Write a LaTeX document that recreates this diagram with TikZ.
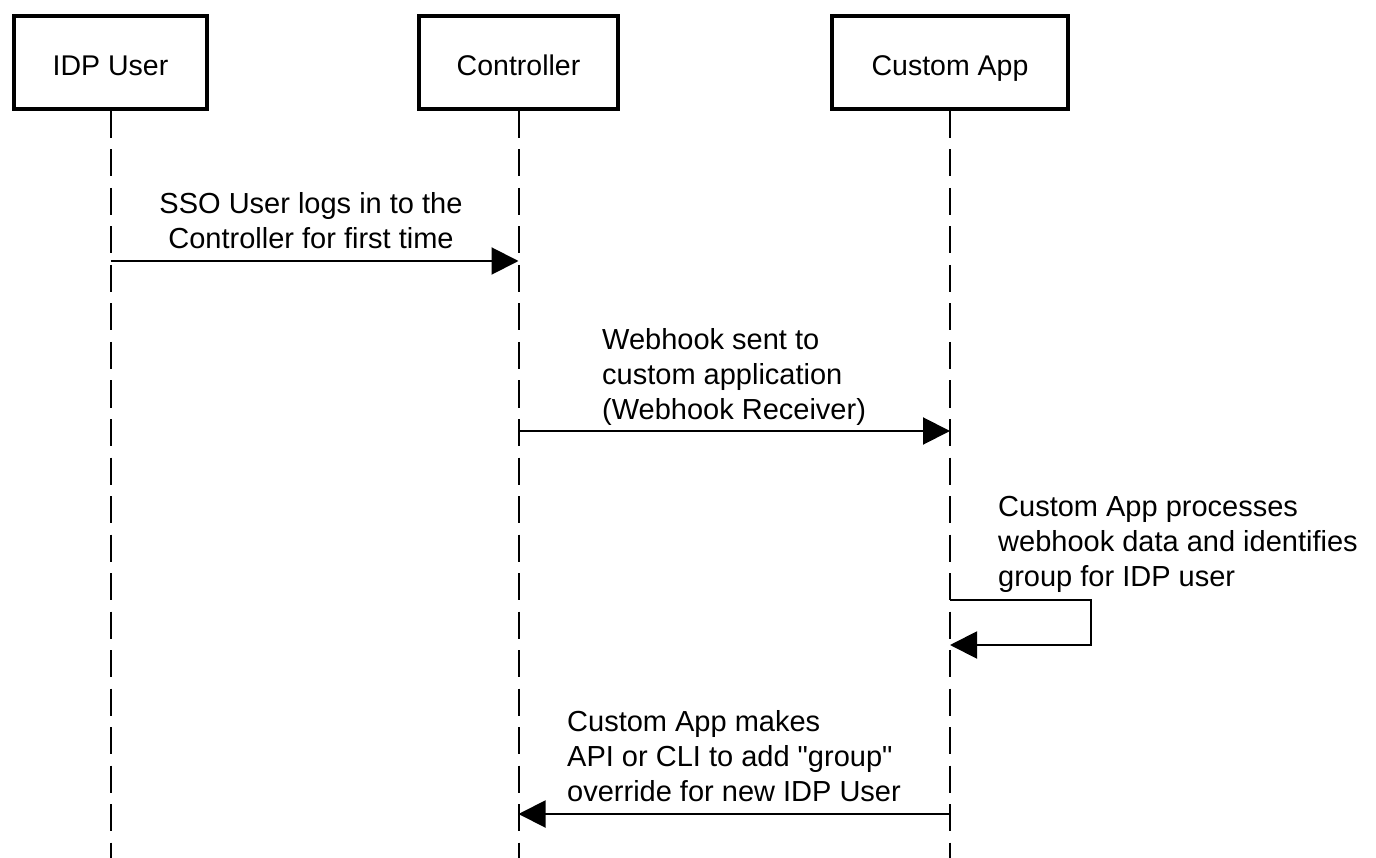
\documentclass[tikz,border=0pt]{standalone}
\usepackage{fontspec}
\setmainfont{Liberation Sans}
\newfontfamily\qfont{Liberation Sans}
\usetikzlibrary{arrows.meta}
\begin{document}
\begin{tikzpicture}[x=1pt,y=-1pt,
  actor/.style={draw=black,line width=4pt,fill=white,minimum height=93pt,inner sep=0pt,text height=27pt,text depth=0pt,font=\fontsize{28.5}{34}\selectfont},
  lifeline/.style={line width=2pt,dash pattern=on 27pt off 11.5pt},
  msg/.style={line width=2pt,-{Triangle[length=27pt,width=27pt]}},
  lbl/.style={inner sep=0pt,font=\fontsize{29}{35}\selectfont}]
\useasboundingbox (0,0) rectangle (1376,858);
\fill[white] (0,0) rectangle (1376,858);
% lifelines
\coordinate (e1) at (110.5,858);
\coordinate (e2) at (518.5,858);
\coordinate (e3) at (950,858);
\node[actor,minimum width=193pt] (idp) at (110.5,62.5) {IDP User};
\node[actor,minimum width=199pt] (ctl) at (518.5,62.5) {Controller};
\node[actor,minimum width=236pt] (app) at (950,62.5) {Custom App};
\draw[lifeline] (idp.south) -- (e1);
\draw[lifeline] (ctl.south) -- (e2);
\draw[lifeline] (app.south) -- (e3);
% message 1
\coordinate (m1a) at (110.5,261);
\coordinate (m1b) at (518.5,261);
\draw[msg] (m1a) -- (m1b);
\node[lbl,align=center,anchor=base] (l1) at (311,249) {SSO User logs in to the\\Controller for first time};
% message 2
\coordinate (m2a) at (518.5,431);
\coordinate (m2b) at (950,431);
\draw[msg] (m2a) -- (m2b);
\node[lbl,align=left,anchor=base west] (l2) at (602,419) {Webhook sent to\\custom application\\(Webhook Receiver)};
% self message
\coordinate (m3a) at (950,600);
\coordinate (m3b) at (1091,600);
\coordinate (m3c) at (1091,645);
\coordinate (m3d) at (950,645);
\draw[msg] (m3a) -- (m3b) -- (m3c) -- (m3d);
\node[lbl,align=left,anchor=base west] (l3) at (998,586) {Custom App processes\\webhook data and identifies\\group for IDP user};
% message 4
\coordinate (m4a) at (950,814);
\coordinate (m4b) at (518.5,814);
\draw[msg] (m4a) -- (m4b);
\node[lbl,align=left,anchor=base west] (l4) at (567,801) {Custom App makes\\API or CLI to add {\qfont"}group{\qfont"}\\override for new IDP User};
\end{tikzpicture}
\end{document}
